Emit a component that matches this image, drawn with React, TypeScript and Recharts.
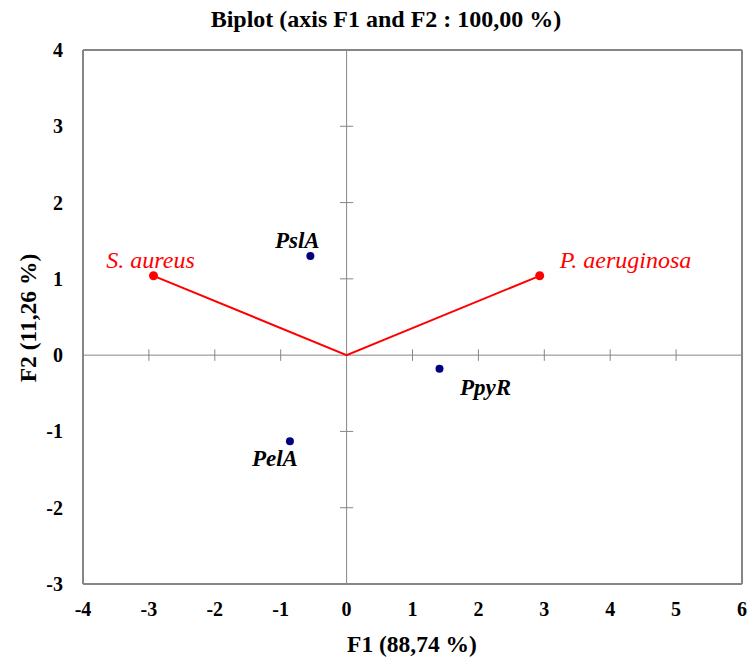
import { ReferenceLine, Scatter, ScatterChart, XAxis, YAxis, ZAxis } from 'recharts';

const obsNames = ['PslA', 'PpyR', 'PelA'];
const obsF1 = [-0.55, 1.41, -0.86];
const obsF2 = [1.3, -0.18, -1.13];

const varNames = ['S. aureus', 'P. aeruginosa'];
const varF1 = [-2.93, 2.93];
const varF2 = [1.04, 1.04];

const xTicks = [-4, -3, -2, -1, 0, 1, 2, 3, 4, 5, 6];
const yTicks = [-3, -2, -1, 0, 1, 2, 3, 4];

const FONT = 'Liberation Serif, serif';
const AXIS = '#868686';

// label placement relative to each point (px)
const labelPos: Record<string, { dx: number; dy: number; anchor: 'start' | 'middle' | 'end' }> = {
  PslA: { dx: -13, dy: -8, anchor: 'middle' },
  PpyR: { dx: 46, dy: 26, anchor: 'middle' },
  PelA: { dx: -15, dy: 25, anchor: 'middle' },
  'S. aureus': { dx: -3, dy: -8, anchor: 'middle' },
  'P. aeruginosa': { dx: 20, dy: -8, anchor: 'start' },
};

const obsData = obsNames.map((name, i) => ({ name, x: obsF1[i], y: obsF2[i] }));
// vectors drawn through the origin: S. aureus -> origin -> P. aeruginosa
const varData = [
  { name: varNames[0], x: varF1[0], y: varF2[0] },
  { name: '', x: 0, y: 0 },
  { name: varNames[1], x: varF1[1], y: varF2[1] },
];

const ObsShape = (props: any) => {
  const { cx, cy, payload } = props;
  const p = labelPos[payload.name];
  return (
    <g>
      <circle cx={cx} cy={cy} r={4} fill="#000080" />
      <text x={cx + p.dx} y={cy + p.dy} textAnchor={p.anchor}
        style={{ fontFamily: FONT, fontSize: 23, fontWeight: 'bold', fontStyle: 'italic' }} fill="#000">
        {payload.name}
      </text>
    </g>
  );
};

const VarShape = (props: any) => {
  const { cx, cy, payload } = props;
  if (!payload.name) return <g />;
  const p = labelPos[payload.name];
  return (
    <g>
      <circle cx={cx} cy={cy} r={4.5} fill="#FF0000" />
      <text x={cx + p.dx} y={cy + p.dy} textAnchor={p.anchor}
        style={{ fontFamily: FONT, fontSize: 24, fontStyle: 'italic' }} fill="#FF0000">
        {payload.name}
      </text>
    </g>
  );
};

const tickText = { fontFamily: FONT, fontSize: 20, fontWeight: 'bold' };

const XTick = (props: any) => (
  <text x={props.x} y={props.y + 32} textAnchor="middle" style={tickText} fill="#000">
    {props.payload.value}
  </text>
);

const YTick = (props: any) => (
  <text x={props.x - 20} y={props.y + 7} textAnchor="end" style={tickText} fill="#000">
    {props.payload.value}
  </text>
);

const titleStyle = { fontFamily: FONT, fontSize: 24, fontWeight: 'bold' };

export default function App() {
  return (
    <div style={{ position: 'absolute', left: 0, top: 0, width: 751, height: 659, background: '#fff' }}>
      <ScatterChart width={751} height={659} margin={{ top: 50, right: 9, bottom: 35, left: 23 }}>
        <text x={386} y={27} textAnchor="middle" style={titleStyle}>
          Biplot (axis F1 and F2 : 100,00 %)
        </text>
        <text x={412} y={652} textAnchor="middle" style={{ ...titleStyle, fontSize: 23.5 }}>
          F1 (88,74 %)
        </text>
        <text x={36} y={318} textAnchor="middle" style={{ ...titleStyle, fontSize: 23.5 }}
          transform="rotate(-90 36 318)">
          F2 (11,26 %)
        </text>
        <XAxis type="number" dataKey="x" domain={[-4, 6]} ticks={xTicks} interval={0} height={40}
          axisLine={{ stroke: AXIS, strokeWidth: 2 }} tickLine={false} tickSize={0} tickMargin={0}
          tick={XTick} />
        <YAxis type="number" dataKey="y" domain={[-3, 4]} ticks={yTicks} interval={0} width={60}
          axisLine={{ stroke: AXIS, strokeWidth: 2 }} tickLine={false} tickSize={0} tickMargin={0}
          tick={YTick} />
        <ZAxis range={[40, 40]} />
        <ReferenceLine y={4} stroke={AXIS} strokeWidth={2} />
        <ReferenceLine x={6} stroke={AXIS} strokeWidth={2} />
        <ReferenceLine y={0} stroke={AXIS} strokeWidth={1} />
        <ReferenceLine x={0} stroke={AXIS} strokeWidth={1} />
        {xTicks.filter((t) => t !== 0 && t !== -4 && t !== 6).map((t) => (
          <ReferenceLine key={'xt' + t} segment={[{ x: t, y: -0.075 }, { x: t, y: 0.075 }]} stroke={AXIS} />
        ))}
        {yTicks.filter((t) => t !== 0 && t !== -3 && t !== 4).map((t) => (
          <ReferenceLine key={'yt' + t} segment={[{ x: -0.1, y: t }, { x: 0.1, y: t }]} stroke={AXIS} />
        ))}
        <Scatter data={varData} line={{ stroke: '#FF0000', strokeWidth: 2 }} shape={VarShape}
          isAnimationActive={false} />
        <Scatter data={obsData} shape={ObsShape} isAnimationActive={false} />
      </ScatterChart>
    </div>
  );
}
